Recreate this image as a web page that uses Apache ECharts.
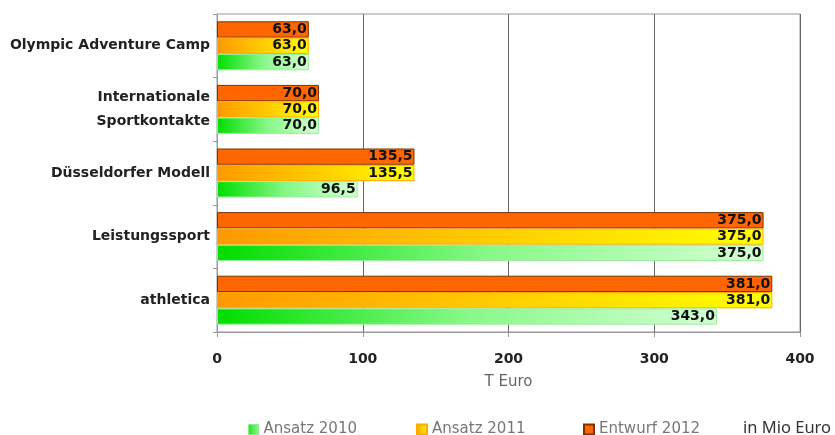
<!DOCTYPE html>
<html><head><meta charset="utf-8">
<script src="https://cdn.jsdelivr.net/npm/echarts@6/dist/echarts.min.js"></script>
<style>html,body{margin:0;padding:0;background:#fff}#c{width:835px;height:435px}</style>
</head><body><div id="c"></div>
<script>
const categories = ['Olympic Adventure Camp', 'Internationale\nSportkontakte', 'Düsseldorfer Modell', 'Leistungssport', 'athletica'];
const ansatz2010 = [63.0, 70.0, 96.5, 375.0, 343.0];
const ansatz2011 = [63.0, 70.0, 135.5, 375.0, 381.0];
const entwurf2012 = [63.0, 70.0, 135.5, 375.0, 381.0];
const seriesNames = ['Ansatz 2010', 'Ansatz 2011', 'Entwurf 2012'];
const xMin = 0, xMax = 400, xStep = 100;
const unitNote = 'in Mio Euro';
const axisTitle = 'T Euro';

const chart = echarts.init(document.getElementById('c'), null, {renderer: 'canvas'});
const FONT = 'DejaVu Sans';
const fmt = p => p.value.toFixed(1).replace('.', ',');
const lbl = {show: true, position: 'insideRight', distance: 2, formatter: fmt,
  color: '#111', fontFamily: FONT, fontWeight: 'bold', fontSize: 14};
const grad = (a, b, c) => new echarts.graphic.LinearGradient(0, 0, 1, 0, [
  {offset: 0, color: a}, {offset: 0.5, color: b}, {offset: 1, color: c}]);

const legendBase = {top: 422, padding: 0, itemWidth: 10, itemHeight: 10, icon: 'rect', itemGap: 5,
  textStyle: {color: '#777', fontFamily: FONT, fontSize: 15}, selectedMode: false};

chart.setOption({
  animation: false,
  backgroundColor: '#fff',
  grid: {left: 217, right: 35, top: 14, bottom: 103, show: true, borderColor: '#999', borderWidth: 1},
  legend: [
    Object.assign({}, legendBase, {left: 248, data: [{name: seriesNames[0],
      itemStyle: {color: grad('#22DD22', '#55EE55', '#99F599'), borderColor: '#88EE88', borderWidth: 1}}]}),
    Object.assign({}, legendBase, {left: 416, data: [seriesNames[1]]}),
    Object.assign({}, legendBase, {left: 583, data: [seriesNames[2]]})
  ],
  graphic: [{type: 'text', left: 743, top: 420,
    style: {text: unitNote, fill: '#333', font: '16.5px "Noto Sans"'}}],
  xAxis: {
    type: 'value', min: xMin, max: xMax, interval: xStep,
    name: axisTitle, nameLocation: 'middle', nameGap: 43,
    nameTextStyle: {color: '#666', fontFamily: FONT, fontSize: 15},
    axisLine: {show: true, lineStyle: {color: '#999'}},
    axisTick: {show: true, length: 5, lineStyle: {color: '#999'}},
    axisLabel: {color: '#222', fontFamily: FONT, fontWeight: 'bold', fontSize: 14, margin: 20},
    splitLine: {show: true, lineStyle: {color: '#666', width: 1}}
  },
  yAxis: {
    type: 'category', inverse: true, data: categories,
    axisLine: {show: true, lineStyle: {color: '#999'}},
    axisTick: {show: true, length: 4, lineStyle: {color: '#999'}},
    axisLabel: {color: '#222', fontFamily: FONT, fontWeight: 'bold', fontSize: 14, margin: 7, lineHeight: 24}
  },
  series: [
    {name: seriesNames[2], type: 'bar', data: entwurf2012, barGap: '0%', barCategoryGap: '23%',
     itemStyle: {color: '#FF6600', borderColor: '#7a3300', borderWidth: 1}, label: lbl},
    {name: seriesNames[1], type: 'bar', data: ansatz2011,
     itemStyle: {color: grad('#FF9900', '#FFCC00', '#FFFF00'), borderColor: '#FFAA00', borderWidth: 1}, label: lbl},
    {name: seriesNames[0], type: 'bar', data: ansatz2010,
     itemStyle: {color: grad('#00DD00', '#88F888', '#D4FFD4'), borderColor: '#99EE99', borderWidth: 1}, label: lbl}
  ]
});
</script></body></html>
